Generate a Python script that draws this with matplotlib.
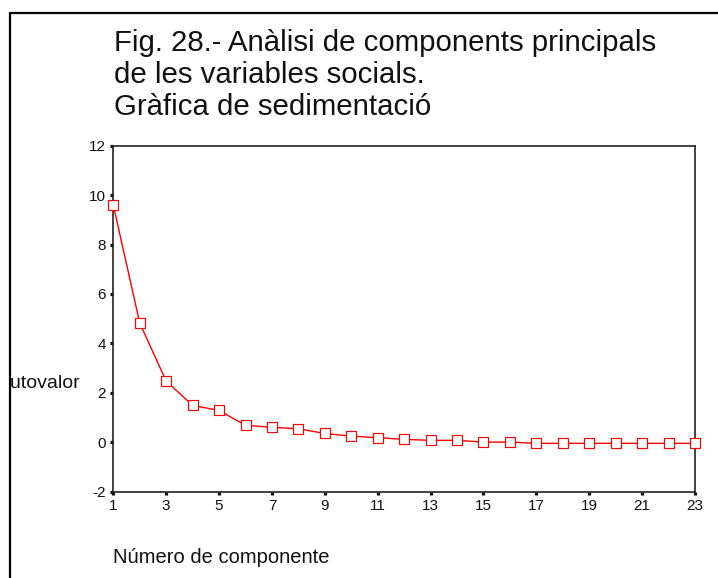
import matplotlib
matplotlib.use("Agg")
import matplotlib.pyplot as plt
from matplotlib.lines import Line2D
from matplotlib.transforms import Bbox, TransformedBbox

plt.rcParams['font.family'] = ['Liberation Sans', 'DejaVu Sans']
plt.rcParams['axes.unicode_minus'] = False

# Data
components = list(range(1, 24))
eigenvalues = [9.60, 4.82, 2.47, 1.49, 1.28, 0.68, 0.60, 0.54, 0.35, 0.24,
               0.18, 0.11, 0.07, 0.07, 0.00, 0.00, -0.05, -0.05, -0.05,
               -0.05, -0.05, -0.05, -0.05]
x_ticks = list(range(1, 24, 2))
y_ticks = list(range(-2, 13, 2))
title_lines = ["Fig. 28.- Anàlisi de components principals",
               "de les variables socials.",
               "Gràfica de sedimentació"]
xlabel = "Número de componente"
ylabel = "Autovalor"

W, H = 718, 578
fig = plt.figure(figsize=(W / 100, H / 100), dpi=100)
fig.patch.set_facecolor('white')

def fx(px):
    return px / W

def fy(py):
    return 1 - py / H

ax = fig.add_axes([fx(113.3), fy(491.5), fx(695) - fx(113.3), fy(145.7) - fy(491.5)])
ax.plot(components, eigenvalues, color='#ff0000', lw=1.0, marker='s',
        markersize=6.7, markerfacecolor='white', markeredgecolor='#ff0000',
        markeredgewidth=0.85, clip_on=False, zorder=3)
ax.set_xlim(1, 23)
ax.set_ylim(-2, 12)
ax.set_xticks(x_ticks)
ax.set_yticks(y_ticks)
ax.tick_params(direction='out', length=2.3, width=2.3, color='#111111',
               labelsize=11, labelcolor='#111111', pad=3)
for s in ax.spines.values():
    s.set_color('#222222')
    s.set_linewidth(1.2)

# Figure border (top and left)
fig.add_artist(Line2D([fx(10), fx(718)], [fy(13), fy(13)], transform=fig.transFigure,
                      color='black', lw=1.6, solid_capstyle='butt'))
fig.add_artist(Line2D([fx(10), fx(10)], [fy(12.2), fy(578)], transform=fig.transFigure,
                      color='black', lw=1.6, solid_capstyle='butt'))

# Title lines
for txt, base in zip(title_lines, [51, 83, 115]):
    fig.text(fx(114), fy(base), txt, fontsize=21.2, ha='left', va='baseline',
             color='#111111')

# Axis labels
fig.text(fx(113), fy(563), xlabel, fontsize=14.5, ha='left', va='baseline',
         color='#111111')
t = fig.text(fx(81), fy(388), ylabel, fontsize=14, ha='right', va='baseline',
             color='#111111')
t.set_clip_box(TransformedBbox(Bbox([[fx(11), 0], [1, 1]]), fig.transFigure))
t.set_clip_on(True)

fig.savefig("out.png", dpi=100)
